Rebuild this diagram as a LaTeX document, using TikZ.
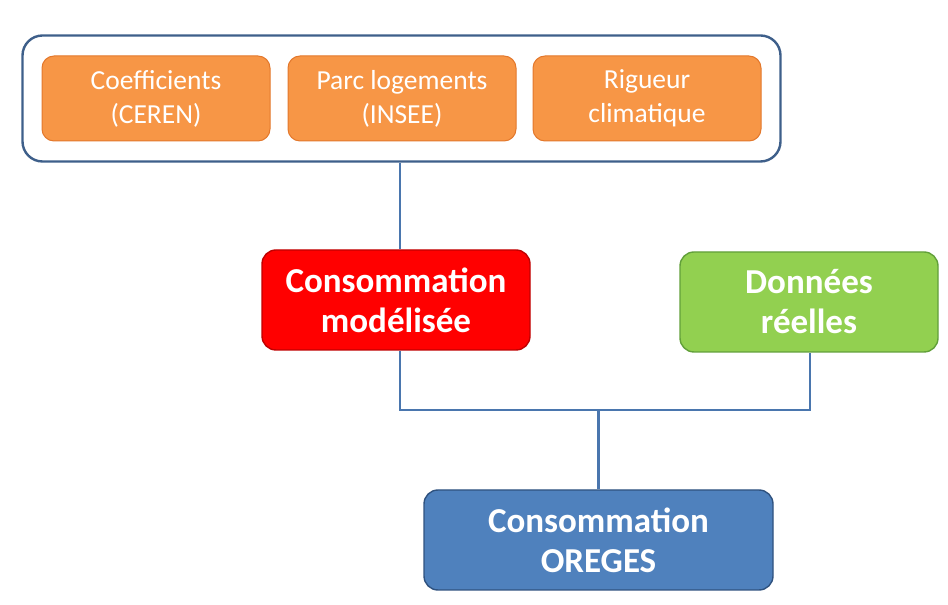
\documentclass[tikz,border=0pt]{standalone}
\usepackage{fontspec}
\setmainfont{Carlito}
\usetikzlibrary{positioning,fit}
\definecolor{ink}{HTML}{FFFFFF}
\definecolor{frameBlue}{HTML}{3E5F8A}
\definecolor{wireBlue}{HTML}{4A76AE}
\definecolor{inputFill}{HTML}{F79646}
\definecolor{inputDraw}{HTML}{E3782C}
\definecolor{modelFill}{HTML}{FF0000}
\definecolor{modelDraw}{HTML}{C00000}
\definecolor{realFill}{HTML}{92D050}
\definecolor{realDraw}{HTML}{62A03A}
\definecolor{oregesFill}{HTML}{4F81BD}
\definecolor{oregesDraw}{HTML}{2F527F}
\tikzset{
  source/.style={rounded corners=12pt,draw=inputDraw,line width=1pt,
    fill=inputFill,text=ink,align=center,minimum width=228pt,
    minimum height=85pt,font=\fontsize{27.5}{34}\selectfont},
  result/.style={rounded corners=14pt,line width=1.4pt,text=ink,
    align=center,minimum height=100pt,
    font=\fontsize{35}{40}\selectfont\bfseries},
  wire/.style={draw=wireBlue,line width=2.4pt}
}

\begin{document}
\begin{tikzpicture}[x=1pt,y=1pt,node distance=17pt]
  \path[use as bounding box] (0,0) rectangle (948,605);

  % the three inputs of the model, grouped in one frame
  \node[source] (coef) at (156,506.5) {Coefficients\\(CEREN)};
  \node[source,right=of coef] (parc) {Parc logements\\(INSEE)};
  \node[source,right=16pt of parc] (rigueur) {Rigueur\\climatique};
  \node[draw=frameBlue,line width=2.4pt,rounded corners=20pt,
    inner xsep=19pt,inner ysep=20pt,fit=(coef) (rigueur)] (inputs) {};

  \node[result,fill=modelFill,draw=modelDraw,minimum width=268pt]
    (model) at (396,305) {Consommation\\modélisée};
  \node[result,fill=realFill,draw=realDraw,minimum width=258pt]
    (real) at (809,303) {Données\\réelles};
  \node[result,fill=oregesFill,draw=oregesDraw,minimum width=349pt]
    (oreges) at (598.5,65) {Consommation\\OREGES};

  % connectors
  \coordinate (join) at (oreges.north |- 0,195);
  \draw[wire] (model.north -| 400,0) -- (inputs.south -| 400,0);
  \draw[wire] (model.south -| 400,0) -- (400,195) -- (810,195)
    -- (real.south -| 810,0);
  \draw[wire] (join) -- (oreges.north);
\end{tikzpicture}
\end{document}
